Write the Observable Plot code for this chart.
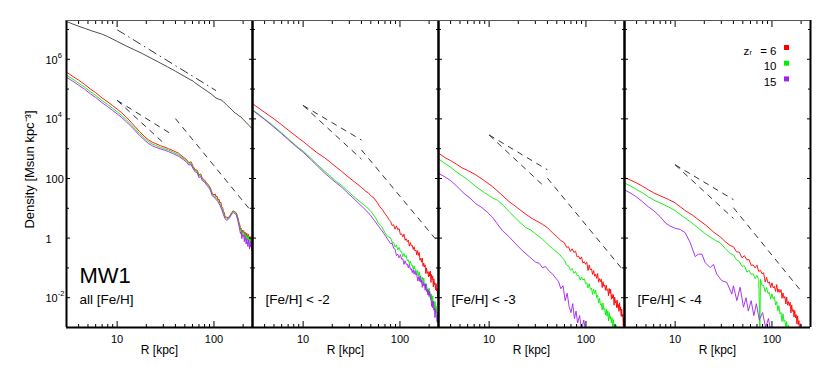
<!DOCTYPE html>
<html><head><meta charset="utf-8">
<script src="https://cdn.jsdelivr.net/npm/d3@7"></script>
<script src="https://cdn.jsdelivr.net/npm/@observablehq/plot@0.6"></script>
<style>body{margin:0;background:#fff}</style>
</head><body><div id="chart"></div>
<script>
// ---------- data (R in kpc, log10 density in Msun kpc^-3) ----------
const panels = [1, 2, 3, 4];
const panelLabels = ["all [Fe/H]", "[Fe/H] < -2", "[Fe/H] < -3", "[Fe/H] < -4"];
const series = ["total", "6", "10", "15"];
const seriesColors = ["#3a3a3a", "#ff0000", "#00ee00", "#a020f0"];
const legendLabels = ["= 6", "10", "15"];
const legendColors = ["#ff0000", "#00ee00", "#a020f0"];
const xMajor = [10, 100];
const xMinor = [4, 5, 6, 7, 8, 9, 20, 30, 40, 50, 60, 70, 80, 90, 200];
const yMajor = [1e6, 1e4, 1e2, 1, 1e-2];
const yMinor = [1e7, 1e5, 1e3, 10, 0.1];
const yTickBase = ["10", "10", "100", "1", "10"];
const yTickExp = ["6", "4", "", "", "-2"];

const p1Total = [[3,7.27],[3.5,7.18],[4,7.11],[4.7,7.03],[5.5,6.95],[6.9,6.85],[8,6.76],[10,6.6],[12,6.47],[15,6.32],[18,6.2],[22,6.05],[27,5.9],[33,5.75],[40,5.6],[50,5.42],[58,5.3],[61,5.27],[63,5.22],[75,5.05],[85,4.93],[95,4.82],[105,4.7],[112,4.66],[118,4.64],[125,4.58],[135,4.47],[150,4.33],[166,4.19],[172,4.17],[180,4.1],[190,4.07],[200,3.98],[215,3.88],[230,3.78],[250,3.66]];
const p1Red = [[3,5.57],[3.5,5.42],[4,5.3],[4.6,5.16],[5.3,5.0],[6,4.88],[7,4.7],[8,4.57],[9,4.44],[10,4.33],[11,4.22],[12.5,4.05],[14,3.88],[15.5,3.72],[17,3.58],[19,3.42],[21,3.3],[23,3.22],[25,3.17],[28,3.1],[31,3.05],[34,3.0],[38,2.93],[43,2.85],[48,2.72],[52,2.64],[55,2.53],[58,2.56],[61,2.4],[64,2.3],[67,2.28],[70,2.12],[73,2.15],[76,2.0],[80,1.95],[84,1.85],[88,1.78],[92,1.68],[96,1.5],[100,1.45],[103,1.48],[105,1.38],[108,1.4],[110,1.28],[113,1.3],[115,1.18],[118,1.2],[120,1.05],[123,1.02],[125,0.9],[128,0.85],[130,0.72],[135,0.7],[140,0.68],[146,0.75],[152,0.85],[158,0.92],[164,0.88],[170,0.85],[176,0.7],[182,0.5],[185,0.44],[188,0.3],[191,0.33],[194,0.16],[197,0.27],[200,0.22],[203,0.25],[206,0.1],[209,0.2],[212,0.17],[215,0.04],[218,0.16],[221,0.1],[224,0.0],[227,0.12],[230,-0.04],[233,0.02],[236,0.06],[239,-0.12],[242,-0.02],[245,-0.08],[248,-0.18],[250,-0.05]];
const p1Green = [[3,5.47],[3.5,5.33],[4,5.2],[4.6,5.07],[5.3,4.91],[6,4.79],[7,4.61],[8,4.48],[9,4.35],[10,4.24],[11,4.13],[12.5,3.97],[14,3.8],[15.5,3.65],[17,3.51],[19,3.36],[21,3.24],[23,3.16],[25,3.11],[28,3.04],[31,3.0],[34,2.95],[38,2.88],[43,2.8],[48,2.68],[52,2.6],[55,2.5],[58,2.52],[61,2.36],[64,2.27],[67,2.24],[70,2.08],[73,2.12],[76,1.97],[80,1.92],[84,1.82],[88,1.75],[92,1.64],[96,1.47],[100,1.42],[105,1.36],[110,1.27],[115,1.17],[120,1.02],[125,0.86],[130,0.7],[135,0.65],[140,0.66],[146,0.73],[152,0.83],[158,0.9],[164,0.86],[170,0.82],[176,0.66],[182,0.45],[185,0.38],[188,0.26],[191,0.3],[194,0.1],[197,0.2],[200,0.18],[203,0.2],[206,0.04],[209,0.15],[212,0.12],[215,-0.04],[218,0.1],[221,0.06],[224,-0.06],[227,0.08],[230,-0.1],[233,-0.03],[236,0.0],[239,-0.18],[242,-0.06],[245,-0.14],[248,-0.22],[250,-0.1]];
const p1Purple = [[3,5.40],[3.5,5.26],[4,5.13],[4.6,5.0],[5.3,4.84],[6,4.72],[7,4.54],[8,4.41],[9,4.28],[10,4.17],[11,4.06],[12.5,3.9],[14,3.74],[15.5,3.59],[17,3.45],[19,3.3],[21,3.18],[23,3.1],[25,3.05],[28,2.99],[31,2.95],[34,2.9],[38,2.83],[43,2.75],[48,2.64],[52,2.55],[55,2.45],[58,2.47],[61,2.32],[64,2.22],[67,2.2],[70,2.03],[73,2.07],[76,1.92],[80,1.88],[84,1.78],[88,1.7],[92,1.6],[96,1.42],[100,1.38],[105,1.3],[110,1.22],[115,1.1],[120,0.97],[125,0.8],[130,0.65],[135,0.6],[140,0.62],[146,0.7],[152,0.8],[158,0.86],[164,0.82],[170,0.78],[176,0.6],[182,0.38],[185,0.25],[188,0.15],[191,0.22],[194,-0.02],[197,0.12],[200,0.06],[203,0.1],[206,-0.12],[209,0.05],[212,-0.02],[215,-0.2],[218,-0.02],[221,-0.12],[224,-0.28],[227,-0.06],[230,-0.2],[233,-0.36],[236,-0.1],[239,-0.3],[242,-0.18],[245,-0.42],[248,-0.24],[250,-0.35]];

const p2Red = [[3,4.51],[4,4.22],[5,4.0],[6,3.8],[7.5,3.55],[9,3.35],[10,3.24],[12,3.03],[14,2.86],[16.6,2.7],[19,2.55],[22,2.38],[25,2.24],[28,2.1],[32,1.95],[36,1.82],[40,1.7],[44,1.58],[47,1.52],[50,1.42],[54,1.34],[58,1.2],[62,1.05],[66,0.95],[70,0.82],[74,0.72],[77,0.62],[80,0.56],[83,0.42],[86,0.45],[89,0.3],[92,0.41],[95,0.28],[98,0.32],[101,0.12],[104,0.14],[107,0.04],[110,0.13],[113,-0.07],[116,-0.02],[119,-0.12],[122,-0.07],[125,-0.27],[128,-0.15],[131,-0.26],[134,-0.24],[137,-0.38],[140,-0.29],[143,-0.43],[146,-0.4],[149,-0.56],[152,-0.42],[155,-0.58],[158,-0.48],[161,-0.74],[164,-0.68],[167,-0.81],[170,-0.67],[173,-0.95],[176,-0.84],[179,-0.97],[182,-0.9],[185,-1.19],[188,-1.0],[191,-1.18],[194,-1.13],[197,-1.3],[200,-1.13],[203,-1.28],[206,-1.11],[209,-1.49],[212,-1.22],[215,-1.39],[218,-1.28],[221,-1.64],[224,-1.37],[227,-1.56],[230,-1.5],[233,-1.74],[236,-1.53],[239,-1.77],[242,-1.68],[245,-2.0],[248,-1.77],[251,-2.0]];
const p2Green = [[3,4.31],[4,4.0],[5,3.75],[6,3.53],[7.5,3.25],[9,3.03],[10,2.92],[12,2.68],[14,2.47],[16.6,2.25],[19,2.08],[22,1.9],[25,1.77],[28,1.62],[32,1.45],[36,1.3],[40,1.18],[45,1.05],[50,0.9],[55,0.72],[60,0.5],[65,0.38],[70,0.18],[75,0.05],[80,0.01],[83,-0.14],[86,-0.15],[89,-0.3],[92,-0.23],[95,-0.39],[98,-0.31],[101,-0.45],[104,-0.45],[107,-0.62],[110,-0.52],[113,-0.63],[116,-0.58],[119,-0.76],[122,-0.73],[125,-0.86],[128,-0.77],[131,-0.91],[134,-0.9],[137,-1.05],[140,-0.93],[143,-1.06],[146,-1.06],[149,-1.19],[152,-1.09],[155,-1.28],[158,-1.13],[161,-1.3],[164,-1.26],[167,-1.49],[170,-1.31],[173,-1.44],[176,-1.34],[179,-1.58],[182,-1.52],[185,-1.69],[188,-1.54],[191,-1.74],[194,-1.7],[197,-1.91],[200,-1.68],[203,-1.91],[206,-1.87],[209,-2.09],[212,-1.88],[215,-2.15],[218,-1.94],[221,-2.17],[224,-2.12],[227,-2.42],[230,-2.13],[233,-2.44],[236,-2.27],[239,-2.52],[242,-2.47],[245,-2.74],[248,-2.48],[251,-2.74]];
const p2Purple = [[3,4.29],[4,3.98],[5,3.72],[6,3.5],[7.5,3.22],[9,3.0],[10,2.88],[12,2.64],[14,2.42],[16.6,2.19],[19,2.02],[22,1.85],[25,1.71],[28,1.55],[32,1.38],[36,1.22],[40,1.08],[45,0.92],[50,0.75],[55,0.57],[60,0.4],[65,0.25],[70,0.1],[75,-0.05],[80,-0.19],[83,-0.17],[86,-0.34],[89,-0.37],[92,-0.59],[95,-0.54],[98,-0.66],[101,-0.56],[104,-0.71],[107,-0.69],[110,-0.88],[113,-0.76],[116,-0.88],[119,-0.87],[122,-1.0],[125,-0.88],[128,-1.05],[131,-1.03],[134,-1.16],[137,-1.06],[140,-1.21],[143,-1.09],[146,-1.24],[149,-1.19],[152,-1.43],[155,-1.3],[158,-1.45],[161,-1.28],[164,-1.48],[167,-1.41],[170,-1.65],[173,-1.45],[176,-1.6],[179,-1.56],[182,-1.75],[185,-1.53],[188,-1.79],[191,-1.72],[194,-1.9],[197,-1.75],[200,-1.96],[203,-1.79],[206,-2.02],[209,-1.97],[212,-2.29],[215,-2.11],[218,-2.34],[221,-2.13],[224,-2.42],[227,-2.34],[230,-2.67],[233,-2.39],[236,-2.6],[239,-2.59],[242,-2.82],[245,-2.61],[248,-2.86],[251,-2.74]];

const p3Red = [[3,2.85],[3.5,2.7],[4,2.6],[4.6,2.48],[5.3,2.35],[6,2.27],[7.3,2.12],[9,1.92],[10.8,1.73],[13,1.5],[16,1.23],[19,1.05],[23.9,0.8],[28,0.65],[32,0.55],[35.6,0.46],[40,0.35],[45,0.18],[50,0.05],[55,-0.08],[60,-0.16],[63,-0.31],[66,-0.29],[69,-0.45],[72,-0.36],[75,-0.48],[78,-0.44],[81,-0.63],[84,-0.61],[87,-0.71],[90,-0.63],[93,-0.84],[96,-0.79],[99,-0.88],[102,-0.81],[105,-1.09],[108,-0.9],[111,-1.07],[114,-1.03],[117,-1.22],[120,-1.09],[123,-1.28],[126,-1.21],[129,-1.35],[132,-1.19],[135,-1.48],[138,-1.36],[141,-1.46],[144,-1.38],[147,-1.66],[150,-1.46],[153,-1.62],[156,-1.57],[159,-1.75],[162,-1.58],[165,-1.76],[168,-1.72],[171,-1.93],[174,-1.69],[177,-1.86],[180,-1.72],[183,-2.05],[186,-1.89],[189,-2.02],[192,-1.9],[195,-2.25],[198,-1.98],[201,-2.17],[204,-2.1],[207,-2.33],[210,-2.08],[213,-2.33],[216,-2.23],[219,-2.46],[222,-2.17],[225,-2.42],[228,-2.31],[231,-2.62],[234,-2.38],[237,-2.64],[240,-2.56],[243,-2.94],[246,-2.7],[249,-3.06],[252,-2.9]];
const p3Green = [[3,2.66],[3.5,2.5],[4,2.38],[4.6,2.22],[5.3,2.08],[6,1.96],[7.3,1.73],[9,1.52],[10.8,1.35],[12.2,1.27],[14,1.1],[16,0.9],[19,0.65],[23.9,0.35],[26.9,0.27],[30,0.15],[35.6,-0.04],[40,-0.2],[45,-0.35],[53,-0.54],[57,-0.65],[60,-0.74],[63,-0.9],[66,-0.93],[69,-1.08],[72,-1.02],[75,-1.18],[78,-1.12],[81,-1.26],[84,-1.25],[87,-1.41],[90,-1.31],[93,-1.41],[96,-1.36],[99,-1.53],[102,-1.5],[105,-1.67],[108,-1.53],[111,-1.72],[114,-1.68],[117,-1.89],[120,-1.71],[123,-1.86],[126,-1.75],[129,-2.0],[132,-1.92],[135,-2.18],[138,-2.02],[141,-2.24],[144,-2.2],[147,-2.41],[150,-2.18],[153,-2.4],[156,-2.36],[159,-2.58],[162,-2.38],[165,-2.62],[168,-2.44],[171,-2.78],[174,-2.5],[177,-2.72],[180,-2.62],[183,-2.84],[186,-2.68],[189,-3.02],[192,-2.74],[195,-3.0],[198,-2.88],[201,-3.18],[205,-2.93],[210,-3.2]];
const p3Purple = [[3,2.18],[3.5,2.05],[4,1.93],[4.6,1.75],[5.5,1.5],[6.3,1.35],[7.3,1.15],[8.2,1.05],[9.5,0.88],[10.8,0.7],[12,0.5],[13.7,0.25],[16,0.05],[18.9,-0.2],[22,-0.42],[25.9,-0.62],[30,-0.8],[33,-0.85],[35.6,-1.0],[38,-0.95],[42,-1.12],[45,-1.2],[48.9,-1.35],[52,-1.45],[55,-1.7],[58,-1.6],[61,-2.1],[64,-1.85],[67,-2.3],[70,-2.5],[73,-2.2],[76,-2.7],[79,-2.45],[82,-2.85],[86,-2.6],[90,-3.1],[95,-2.75],[100,-3.2]];

const p4Red = [[3,2.03],[3.5,1.94],[4,1.85],[4.6,1.74],[5.3,1.62],[6,1.52],[7,1.42],[8.5,1.3],[10,1.18],[11.3,1.05],[13,0.9],[15,0.78],[18,0.58],[21,0.42],[25,0.2],[29,0.05],[33,-0.12],[37,-0.25],[40,-0.29],[43,-0.46],[46,-0.47],[49,-0.66],[52,-0.59],[55,-0.73],[58,-0.72],[61,-0.92],[64,-0.9],[67,-1.0],[70,-0.91],[73,-1.12],[76,-1.08],[79,-1.2],[82,-1.16],[85,-1.47],[88,-1.32],[91,-1.51],[94,-1.47],[97,-1.66],[100,-1.5],[103,-1.67],[106,-1.62],[109,-1.79],[112,-1.56],[115,-1.82],[118,-1.71],[121,-1.82],[124,-1.73],[127,-2.02],[130,-1.84],[133,-2.02],[136,-1.96],[139,-2.21],[142,-1.98],[145,-2.25],[148,-2.13],[151,-2.27],[154,-2.15],[157,-2.51],[160,-2.25],[163,-2.46],[166,-2.4],[169,-2.65],[172,-2.43],[175,-2.68],[178,-2.57],[181,-2.88],[184,-2.61],[187,-2.9],[190,-2.77],[193,-3.11],[196,-2.87],[200,-3.15]];
const p4Green = [[3,1.85],[3.5,1.74],[4,1.63],[4.6,1.52],[5.3,1.38],[6,1.28],[7,1.18],[8.5,1.05],[10,0.92],[11.3,0.79],[13,0.65],[15,0.5],[18,0.29],[21,0.12],[26,-0.08],[29,-0.15],[33,-0.35],[37,-0.52],[40,-0.56],[43,-0.73],[46,-0.78],[49,-0.95],[52,-0.93],[55,-1.14],[58,-1.09],[61,-1.22],[64,-1.2],[67,-1.36],[70,-1.25],[73,-1.39],[75,-3.1],[76,-1.38],[79,-1.58],[82,-1.59],[85,-1.8],[88,-1.66],[91,-1.86],[94,-1.83],[97,-2.05],[100,-1.87],[103,-2.04],[106,-1.97],[109,-2.24],[112,-2.13],[115,-2.44],[118,-2.27],[121,-2.55],[124,-2.5],[127,-2.8],[130,-2.54],[133,-2.8],[136,-2.76],[139,-3.04],[142,-2.8],[145,-3.1],[148,-2.92],[152,-3.2]];
const p4Purple = [[3,1.62],[3.5,1.5],[4,1.38],[4.6,1.22],[5.3,1.05],[6,0.92],[7,0.72],[8,0.5],[8.9,0.4],[10,0.33],[11.3,0.29],[12.7,0.18],[14.3,-0.15],[16.1,-0.62],[17.4,-0.54],[18.9,-0.54],[20.4,-0.82],[23,-0.99],[24.9,-0.88],[26.9,-1.21],[30.4,-1.43],[34.2,-1.49],[38.5,-1.88],[40,-1.6],[43.4,-2.1],[46.9,-1.65],[50.8,-2.32],[54,-2.0],[57,-2.45],[61,-2.1],[65,-2.6],[69,-2.2],[74,-2.75],[80,-2.5],[86,-3.0],[92,-2.7],[98,-3.2]];

// reference power laws: [panel, R0, logRho0, R1, logRho1]
const refDashed = [
  [1,10,4.62,38,3.45],[1,10,4.62,30,3.2],[1,40,4.01,250,0.85],
  [2,10,4.45,40,3.29],[2,10,4.45,40,2.65],[2,40,2.96,250,-0.15],
  [3,10,3.46,40,2.29],[3,10,3.46,38,1.7],[3,40,2.01,245,-1.1],
  [4,10,2.46,40,1.29],[4,10,2.46,40,0.66],[4,40,1.02,205,-1.82]
];
const refDashDot = [[1,10,6.99,105,4.95]];

// ---------- tables built from the arrays ----------
const curves = [
  [1,"total",p1Total],[1,"6",p1Red],[1,"10",p1Green],[1,"15",p1Purple],
  [2,"6",p2Red],[2,"10",p2Green],[2,"15",p2Purple],
  [3,"6",p3Red],[3,"10",p3Green],[3,"15",p3Purple],
  [4,"6",p4Red],[4,"10",p4Green],[4,"15",p4Purple]
];
const rows = [];
for (const [panel, s, arr] of curves) for (const [R, l] of arr) rows.push({panel, s, R, rho: 10 ** l});
const toSeg = a => ({panel: a[0], R0: a[1], y0: 10 ** a[2], R1: a[3], y1: 10 ** a[4]});
const dashedSegs = refDashed.map(toSeg);
const dashDotSegs = refDashDot.map(toSeg);
const panelRows = panels.map((p, i) => ({panel: p, label: panelLabels[i]}));
const yLabRows = yMajor.map((v, i) => ({v, base: yTickBase[i], exp: yTickExp[i]}));

const font = "Liberation Sans, Arial, Helvetica, sans-serif";
const blank = () => "";

const marks = [
  // curves
  Plot.line(rows, {x: "R", y: "rho", z: "s", stroke: "s", fx: "panel", strokeWidth: 0.9, clip: true}),
  Plot.link(dashedSegs, {x1: "R0", y1: "y0", x2: "R1", y2: "y1", fx: "panel", stroke: "#333", strokeWidth: 1, strokeDasharray: "6,5", clip: true}),
  Plot.link(dashDotSegs, {x1: "R0", y1: "y0", x2: "R1", y2: "y1", fx: "panel", stroke: "#333", strokeWidth: 1, strokeDasharray: "9,4,1.5,4", clip: true}),
  // frame
  Plot.ruleX([3, 250], {stroke: "#000", strokeWidth: 2}),
  Plot.ruleY([1e-3], {stroke: "#000", strokeWidth: 2}),
  Plot.ruleY([2e7], {stroke: "#555", strokeWidth: 1}),
  // ticks (inward)
  Plot.axisX({anchor: "bottom", ticks: xMajor, tickSize: -6, tickFormat: blank, label: null}),
  Plot.axisX({anchor: "bottom", ticks: xMinor, tickSize: -3, tickFormat: blank, label: null}),
  Plot.axisX({anchor: "top", ticks: xMajor, tickSize: -6, tickFormat: blank, label: null}),
  Plot.axisX({anchor: "top", ticks: xMinor, tickSize: -3, tickFormat: blank, label: null}),
  Plot.axisY({anchor: "left", ticks: yMajor, tickSize: -4, tickFormat: blank, label: null, facetAnchor: null}),
  Plot.axisY({anchor: "left", ticks: yMinor, tickSize: -3, tickFormat: blank, label: null, facetAnchor: null}),
  Plot.axisY({anchor: "right", ticks: yMajor, tickSize: -4, tickFormat: blank, label: null, facetAnchor: null}),
  Plot.axisY({anchor: "right", ticks: yMinor, tickSize: -3, tickFormat: blank, label: null, facetAnchor: null}),
  // x tick labels
  Plot.axisX({anchor: "bottom", ticks: xMajor, tickSize: 0, tickPadding: 8, tickFormat: d => String(d), label: null, fontSize: 11}),
  Plot.text(panelRows, {fx: "panel", text: () => "R [kpc]", frameAnchor: "bottom", textAnchor: "middle", dy: 26, fontSize: 12}),
  // y tick labels (first panel)
  Plot.text(yLabRows, {fx: () => 1, y: "v", text: "base", frameAnchor: "left", textAnchor: "start", dx: -21, dy: 1, fontSize: 11}),
  Plot.text(yLabRows, {fx: () => 1, y: "v", text: "exp", frameAnchor: "left", textAnchor: "start", dx: -8.8, dy: -4, fontSize: 7.5}),
  Plot.text(["Density [Msun kpc⁻³]"], {fx: () => 1, text: d => d, frameAnchor: "left", textAnchor: "middle", rotate: -90, dx: -37, dy: -4.5, fontSize: 13}),
  // panel labels
  Plot.text(["MW1"], {fx: () => 1, text: d => d, frameAnchor: "bottom-left", textAnchor: "start", dx: 13, dy: -45, fontSize: 22}),
  Plot.text(panelRows, {fx: "panel", text: "label", frameAnchor: "bottom-left", textAnchor: "start", dx: 13, dy: -24, fontSize: 13.5}),
  // legend (last panel)
  Plot.text(["z"], {fx: () => 4, text: d => d, frameAnchor: "top-right", textAnchor: "start", dx: -67, dy: 26, fontSize: 11.5}),
  Plot.text(["r"], {fx: () => 4, text: d => d, frameAnchor: "top-right", textAnchor: "start", dx: -61, dy: 30, fontSize: 7}),
  ...legendLabels.map((t, i) => Plot.text([t], {fx: () => 4, text: d => d, frameAnchor: "top-right", textAnchor: "end", dx: -34, dy: 26 + i * 15.7, fontSize: 11.5})),
  ...legendColors.map((c, i) => Plot.dot([c], {fx: () => 4, frameAnchor: "top-right", dx: -24, dy: 27 + i * 15.7, symbol: "square", r: 2.8, fill: c, stroke: null}))
];

const chart = Plot.plot({
  width: 830, height: 369,
  marginLeft: 64, marginRight: 19, marginTop: 20, marginBottom: 42,
  style: {fontFamily: font, fontSize: "11px", background: "#fff", color: "#000"},
  x: {type: "log", domain: [3, 250]},
  y: {type: "log", domain: [1e-3, 2e7]},
  fx: {domain: panels, padding: 0, axis: null},
  color: {domain: series, range: seriesColors},
  marks
});
document.getElementById("chart").appendChild(chart);
</script>
</body></html>
